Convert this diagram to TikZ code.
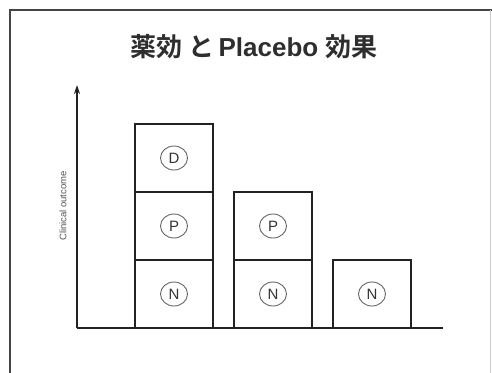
\documentclass[tikz,border=0pt]{standalone}
\usepackage{fontspec}
\usetikzlibrary{arrows.meta,shapes.geometric}
\setmainfont{Liberation Sans}
\newfontfamily\cjk{Noto Sans CJK JP}[BoldFont={Noto Sans CJK JP Bold}]
\definecolor{ink}{HTML}{222222}
\definecolor{framec}{HTML}{454545}
\begin{document}
\begin{tikzpicture}[x=1pt,y=-1pt,
  seg/.style={draw=ink,line width=1.7pt,rectangle,minimum width=78pt,minimum height=68pt,inner sep=0pt,outer sep=0pt,anchor=south west},
  tag/.style={draw=black!60,line width=0.9pt,ellipse,minimum width=27pt,minimum height=24pt,inner sep=0pt,text=black!80,font=\fontsize{15}{15}\selectfont},
  axisline/.style={draw=ink,line width=1.8pt}]
\useasboundingbox (0,0) rectangle (492,372);
% frame
\draw[framec,line width=1.3pt] (10,380) -- (10,10) -- (500,10);
\draw[black!20,line width=0.6pt] (490,10) -- (490,380);
% title
\node[text=black!82] (title) at (254,47) {\bfseries\fontsize{26}{26}\selectfont{\cjk 薬効 と}\,Placebo {\cjk 効果}};
% axes
\coordinate (origin) at (77,328);
\coordinate (ytip) at (77,85);
\coordinate (xend) at (443,328);
\draw[axisline,-{Stealth[length=9pt,width=6pt]}] (origin) -- (ytip);
\draw[axisline] (origin) -- (xend);
\node[rotate=90,text=black!68,font=\fontsize{9.5}{9.5}\selectfont] (ylab) at (63,206) {Clinical outcome};
% bar 1
\node[seg] (b1n) at (135,328) {};
\node[seg] (b1p) at (135,260) {};
\node[seg] (b1d) at (135,192) {};
% bar 2
\node[seg] (b2n) at (234,328) {};
\node[seg] (b2p) at (234,260) {};
% bar 3
\node[seg] (b3n) at (333,328) {};
% tags
\node[tag] (t1n) at (b1n.center) {N};
\node[tag] (t1p) at (b1p.center) {P};
\node[tag] (t1d) at (b1d.center) {D};
\node[tag] (t2n) at (b2n.center) {N};
\node[tag] (t2p) at (b2p.center) {P};
\node[tag] (t3n) at (b3n.center) {N};
\end{tikzpicture}
\end{document}
